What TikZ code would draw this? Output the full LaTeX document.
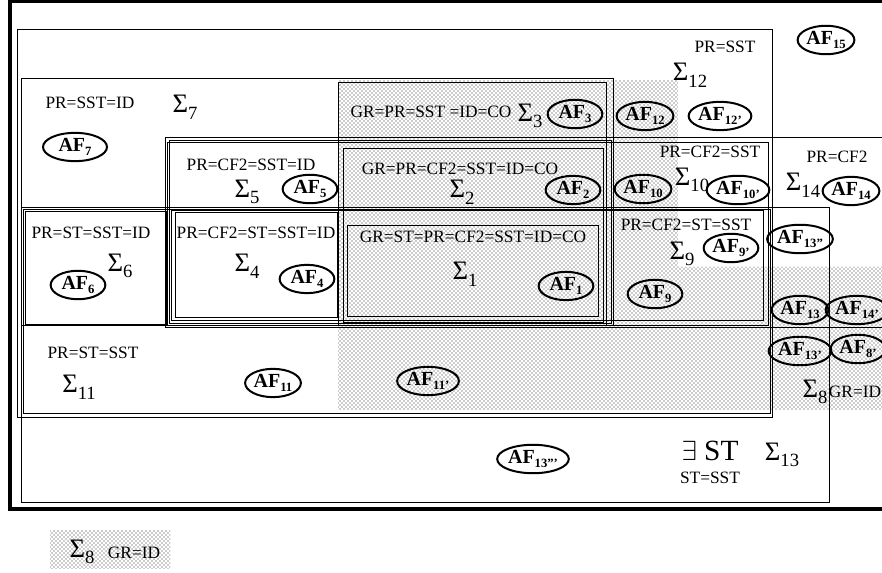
\documentclass[tikz,border=0pt]{standalone}
\usepackage{fontspec}
\setmainfont{Liberation Serif}
\usepackage{tikz}
\usetikzlibrary{shapes.geometric,patterns}

\newcommand{\sig}[1]{{\fontsize{20}{20}\selectfont Σ}\raisebox{-5pt}{\fontsize{14}{14}\selectfont #1}}
\newcommand{\afl}[1]{AF\raisebox{-3.5pt}{\fontsize{9.5}{9.5}\selectfont #1}}

\begin{document}
\begin{tikzpicture}[x=0.75pt,y=-0.75pt,
	box/.style={line width=0.65pt},
	frame/.style={line width=3.7pt},
	gr/.style={pattern=crosshatch dots,pattern color=black!85},
	lbl/.style={inner sep=0pt,font=\fontsize{13}{14}\selectfont},
	sg/.style={inner sep=0pt},
	af/.style={draw,ellipse,line width=1.5pt,inner xsep=0.3pt,inner ysep=0.8pt,
		minimum width=41pt,minimum height=21pt,
		font=\fontsize{15}{15}\selectfont\bfseries}]
	
	\useasboundingbox (0,0) rectangle (882,573);
	
	% GR=ID gebiet
	\fill[gr] (338,80) -- (678,80) -- (678,267) -- (882,267) -- (882,410) -- (338,410) -- cycle;
	\fill[gr] (50,530) rectangle (170,568);
	
	% rahmen
	\draw[frame] (10,0.5) rectangle (895,509);
	
	% mengen
	\draw[box] (17,29) rectangle (772,417);   % Sigma 12
	\draw[box] (21,207) rectangle (829,502);  % Sigma 13
	\draw[box] (21,78) rectangle (613,325);   % Sigma 7
	\draw[box] (23,209) rectangle (770,413);  % Sigma 11
	\draw[box] (25,211) rectangle (166,324);  % Sigma 6
	\draw[box] (165,137) rectangle (895,327); % Sigma 14
	\draw[box] (167,142) rectangle (768,325); % Sigma 10
	\draw[box] (169,140) rectangle (611,323); % Sigma 5
	\draw[box] (171,210) rectangle (763,320); % Sigma 9
	\draw[box] (175,212) rectangle (337,317); % Sigma 4
	\draw[box] (338,82) rectangle (606,325);  % Sigma 3
	\draw[box] (343,148) rectangle (603,322); % Sigma 2
	\draw[box] (347,225) rectangle (598,316); % Sigma 1
	
	% oben
	\node[lbl] (l12) at (725,47) {PR=SST};
	\node[sg] (s12) at (690,75) {\sig{12}};
	\node[af] (af15) at (826,40) {\afl{15}};
	\node[af] (af12) at (645,116) {\afl{12}};
	\node[af] (af12p) at (720,116) {\afl{12'}};
	
	\node[lbl] (l7) at (90,103) {PR=SST=ID};
	\node[sg] (s7) at (185,107) {\sig{7}};
	\node[af,minimum width=48pt] (af7) at (75,147) {\afl{7}};
	
	\node[lbl] (l3) at (431,112) {GR=PR=SST =ID=CO};
	\node[sg] (s3) at (530,116) {\sig{3}};
	\node[af] (af3) at (575,114) {\afl{3}};
	
	% mitte
	\node[lbl] (l5) at (251,165) {PR=CF2=SST=ID};
	\node[sg] (s5) at (247,192) {\sig{5}};
	\node[af] (af5) at (310,189) {\afl{5}};
	
	\node[lbl] (l2) at (460,169) {GR=PR=CF2=SST=ID=CO};
	\node[sg] (s2) at (462,192) {\sig{2}};
	\node[af] (af2) at (573,190) {\afl{2}};
	
	\node[lbl] (l10) at (710,152) {PR=CF2=SST};
	\node[sg] (s10) at (692,180) {\sig{10}};
	\node[af] (af10) at (643,189) {\afl{10}};
	\node[af] (af10p) at (738,190) {\afl{10'}};
	
	\node[lbl] (l14) at (837,157) {PR=CF2};
	\node[sg] (s14) at (803,185) {\sig{14}};
	\node[af] (af14) at (851,191) {\afl{14}};
	
	\node[lbl] (l6) at (91,233) {PR=ST=SST=ID};
	\node[sg] (s6) at (120,266) {\sig{6}};
	\node[af] (af6) at (78,285) {\afl{6}};
	
	\node[lbl] (l4) at (256,233) {PR=CF2=ST=SST=ID};
	\node[sg] (s4) at (247,266) {\sig{4}};
	\node[af] (af4) at (307,279) {\afl{4}};
	
	\node[lbl] (l1) at (473,237) {GR=ST=PR=CF2=SST=ID=CO};
	\node[sg] (s1) at (465,274) {\sig{1}};
	\node[af] (af1) at (566,286) {\afl{1}};
	
	\node[lbl] (l9) at (686,225) {PR=CF2=ST=SST};
	\node[sg] (s9) at (682,254) {\sig{9}};
	\node[af] (af9p) at (731,248) {\afl{9'}};
	\node[af] (af9) at (655,294) {\afl{9}};
	
	% rechts
	\node[af] (af13pp) at (800,239) {\afl{13''}};
	\node[af] (af13) at (800,310) {\afl{13}};
	\node[af] (af14p) at (857,310) {\afl{14'}};
	\node[af] (af13p) at (800,351) {\afl{13'}};
	\node[af] (af8p) at (858,349) {\afl{8'}};
	\node[sg] (s8) at (815,392) {\sig{8}};
	\node[lbl] (l8) at (855,392) {GR=ID};
	
	% unten
	\node[lbl] (l11) at (93,353) {PR=ST=SST};
	\node[sg] (s11) at (79,387) {\sig{11}};
	\node[af] (af11) at (273,383) {\afl{11}};
	\node[af] (af11p) at (428,381) {\afl{11'}};
	
	\node[af] (af13ppp) at (533,459) {\afl{13'''}};
	\node[sg] (ex) at (710,451) {\fontsize{22}{22}\selectfont$\exists$ ST};
	\node[lbl] (l13) at (710,478) {ST=SST};
	\node[sg] (s13) at (782,455) {\sig{13}};
	
	% legende
	\node[sg] (legs) at (82,552) {\sig{8}};
	\node[lbl] (legg) at (134,553) {GR=ID};
\end{tikzpicture}
\end{document}
